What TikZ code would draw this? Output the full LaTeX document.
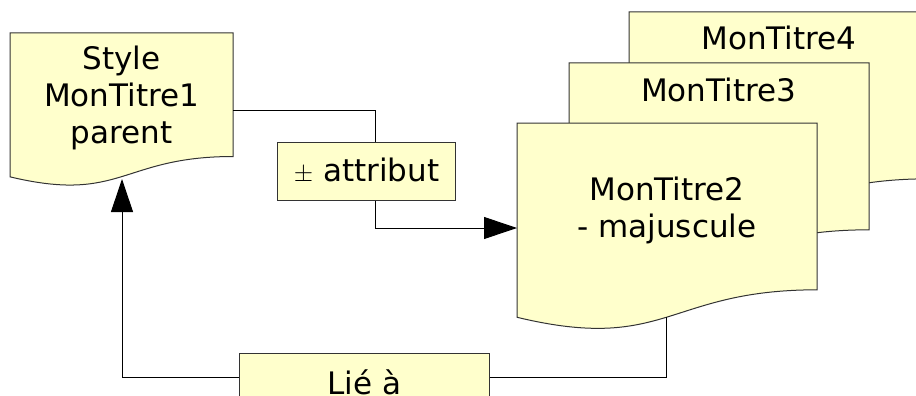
\documentclass[tikz,border=0pt]{standalone}
\usepackage{fontspec}
\setmainfont{DejaVu Sans}
\usetikzlibrary{arrows.meta}
\definecolor{docyellow}{HTML}{FFFFCC}
\definecolor{edgegray}{HTML}{333333}
\tikzset{
  docshape/.style={fill=docyellow, draw=edgegray, line width=1pt},
  txt/.style={font=\fontsize{31}{37}\selectfont, align=center, inner sep=0pt},
  boxnode/.style={fill=docyellow, draw=edgegray, line width=1pt, font=\fontsize{31}{37}\selectfont, inner sep=0pt},
  conn/.style={draw=black, line width=1pt},
  arr/.style={-{Triangle[length=33pt,width=22pt]}}
}
\newcommand\docpath[4]{%
  \path[docshape] (#1,#2) -- ({#1+#3},#2) -- ({#1+#3},{#2+0.802*#4})
    .. controls ({#1+#3/2},{#2+0.802*#4}) and ({#1+#3/2},{#2+1.1075*#4}) ..
    (#1,{#2+0.934*#4}) -- cycle;}
\begin{document}
\begin{tikzpicture}[x=1pt,y=-1pt]
\useasboundingbox (0,0) rectangle (916,396);
\clip (0,0) rectangle (916,396);
\fill[white] (0,0) rectangle (916,396);
% stacked documents
\docpath{629}{12}{300}{208}
\node[txt, anchor=base] (t4) at (779,50) {MonTitre4};
\docpath{569}{63}{300}{208}
\node[txt, anchor=base] (t3) at (718.5,102) {MonTitre3};
\docpath{517}{123}{300}{208}
\node[txt] (t2) at (667,210.5) {MonTitre2\\- majuscule};
\docpath{10}{33}{223}{154}
\node[txt] (t1) at (121.5,98) {Style\\MonTitre1\\parent};
% boxes
\node[boxnode, minimum width=178pt, minimum height=58pt] (attr) at (366.5,171) {{\fontsize{23}{23}\selectfont$\pm$}~attribut};
\node[boxnode, minimum width=250pt, minimum height=58pt] (lie) at (364.5,382) {Lié à};
% anchor points
\coordinate (d1r) at (233,110);
\coordinate (d1b) at (122,179);
\coordinate (d2l) at (517,228);
\coordinate (d2b) at (666,317);
\coordinate (kx) at (375,0);
\coordinate (ly) at (0,377);
% connectors
\draw[conn] (d1r) -| (attr.north -| kx);
\draw[conn, arr] (attr.south -| kx) |- (d2l);
\draw[conn] (d2b) |- (lie.east |- ly);
\draw[conn, arr] (lie.west |- ly) -| (d1b);
\end{tikzpicture}
\end{document}
